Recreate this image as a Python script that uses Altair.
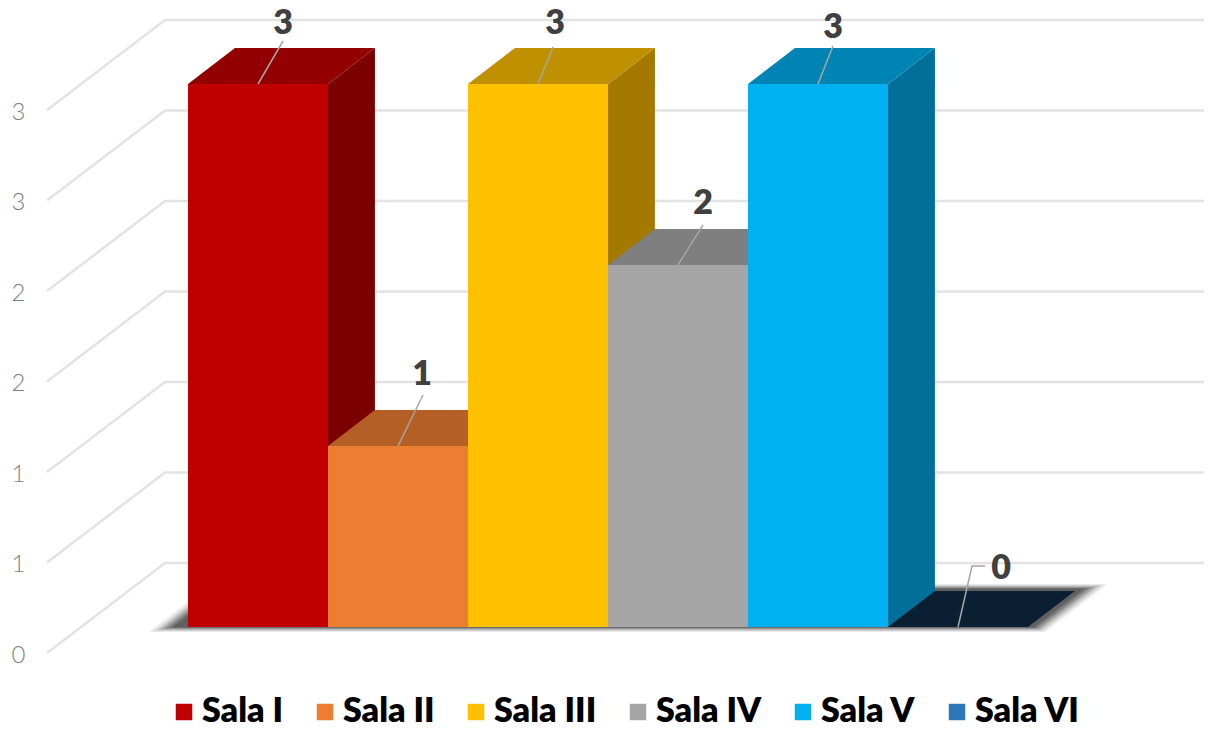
import altair as alt
import pandas as pd

# ---- chart values ----
CATEGORIES = ["Sala I", "Sala II", "Sala III", "Sala IV", "Sala V", "Sala VI"]
VALUES = [3, 1, 3, 2, 3, 0]
TICKS = [0, 0.5, 1, 1.5, 2, 2.5, 3]
FRONT = ["#C00000", "#ED7D31", "#FFC000", "#A5A5A5", "#00B0F0", "#2E75B6"]
TOP = ["#920000", "#B45F25", "#BF9000", "#7F7F7F", "#0084B4", "#0B1F33"]
SIDE = ["#7B0000", "#A04F1C", "#A37900", "#6E6E6E", "#00709A", "#0B1F33"]

# ---- projection (screen geometry of the 3D box) ----
PLOT_L, PLOT_T, W, H = 30, 8, 1174, 715
BAR_PX, UNIT_PX = 140, 181
X0, Y0 = 188, 652            # page position of first bar's left edge / value 0
DEPTH_DX, DEPTH_DY = 116, 89  # wall depth in pixels
D_FRONT, D_BACK = 25 / 89, 61 / 89


def fx(p):
    return (p - X0) / BAR_PX


def fy(p):
    return (Y0 - p) / UNIT_PX


def X(c, d, base=D_FRONT):
    return c + (d - base) * DEPTH_DX / BAR_PX


def Y(v, d):
    return v + d * DEPTH_DY / UNIT_PX


x_scale = alt.Scale(domain=[fx(PLOT_L), fx(PLOT_L + W)], nice=False, zero=False)
y_scale = alt.Scale(domain=[fy(PLOT_T + H), fy(PLOT_T)], nice=False, zero=False)
y_axis = alt.Axis(
    values=TICKS, format=".0f", domain=False, ticks=False, grid=False,
    labelFont="Lato", labelFontSize=24, labelFontWeight=300,
    labelColor="#7F7F7F", labelPadding=5, labelOffset=3,
)
xe = alt.X("x:Q", scale=x_scale, axis=None, title=None)
ye = alt.Y("y:Q", scale=y_scale, axis=y_axis, title=None)
y2e = alt.Y2("y2:Q")


def area(rows, color, opacity=1.0):
    return (
        alt.Chart(pd.DataFrame(rows, columns=["x", "y", "y2"]))
        .mark_area(orient="vertical", color=color, opacity=opacity, line=False, interpolate="linear")
        .encode(x=xe, y=ye, y2=y2e)
    )


def para_top(c0, c1, v, d0, d1):
    """horizontal face at value v between depths d0 and d1"""
    a = X(c0, d0); b = X(c0, d1); e = X(c1, d0); f = X(c1, d1)
    yf, yb = Y(v, d0), Y(v, d1)
    return [[a, yf, yf], [b, yb, yf], [e, yb, yf], [f, yb, yb]]


layers = []

# walls: gridlines
grid_rows = []
for k, t in enumerate(TICKS):
    grid_rows += [
        {"x": fx(47), "y": t + fy(653), "g": k},
        {"x": fx(165), "y": t + fy(563), "g": k},
        {"x": fx(PLOT_L + W), "y": t + fy(563), "g": k},
    ]
layers.append(
    alt.Chart(pd.DataFrame(grid_rows))
    .mark_line(color="#E3E3E3", strokeWidth=2.6)
    .encode(x=xe, y=ye, detail="g:N", order=alt.Order("x:Q"))
)

# floor shadow (soft edge from nested faces)
SHADOW_STEPS = ["#EFEFEF", "#DCDCDC", "#C4C4C4", "#A8A8A8", "#8C8C8C", "#747474", "#606060"]
for k, col in enumerate(SHADOW_STEPS):
    e = 3 * k / BAR_PX
    dd = 0.8 * k / DEPTH_DY
    layers.append(area(para_top(fx(155) + e, fx(1052) - e, 0, 20 / 89 + dd, 68 / 89 - dd), col))

# bars, painted from left to right
for i, (cat, v) in enumerate(zip(CATEGORIES, VALUES)):
    c0, c1 = i, i + 1
    if v > 0:
        layers.append(area(
            [[X(c1, D_FRONT), Y(v, D_FRONT), Y(0, D_FRONT)], [X(c1, D_BACK), Y(v, D_BACK), Y(0, D_BACK)]],
            SIDE[i]))
    layers.append(area(para_top(c0, c1, v, D_FRONT, D_BACK), TOP[i]))
    front = pd.DataFrame([{"cat": cat, "x": c0, "x2": c1, "y": Y(v, D_FRONT), "y2": Y(0, D_FRONT)}])
    layers.append(
        alt.Chart(front)
        .mark_rect()
        .encode(
            x=xe, x2="x2:Q", y=ye, y2=y2e,
            color=alt.Color(
                "cat:N",
                scale=alt.Scale(domain=CATEGORIES, range=FRONT),
                legend=alt.Legend(
                    title=None, orient="none", legendX=137, legendY=687, direction="horizontal",
                    columns=6, symbolType="square", symbolSize=272, symbolStrokeWidth=0,
                    labelFont="Lato", labelFontSize=34, labelFontWeight=800, labelColor="#000000",
                    labelOffset=1, columnPadding=24, labelLimit=300, values=CATEGORIES,
                ),
            ),
        )
    )

# leader lines and value labels
LEADER_TOP_DX = [25, 25, 15, 25, 15, 14]
LEADER_TOP_DY = [43, 51, 37, 40, 38, 61]
LABEL_DX = [25, 24, 17, 25, 15, 43]
LABEL_DY = [60, 71, 60, 61, 56, 58]
lead, lab = [], []
for i, v in enumerate(VALUES):
    cx = i + 0.5
    ty = Y(v, D_FRONT)
    tip_x = cx + LEADER_TOP_DX[i] / BAR_PX
    tip_y = ty + LEADER_TOP_DY[i] / UNIT_PX
    lead += [{"x": cx, "y": ty, "g": i, "o": 0}, {"x": tip_x, "y": tip_y, "g": i, "o": 1}]
    if v == 0:
        lead.append({"x": tip_x + 13 / BAR_PX, "y": tip_y, "g": i, "o": 2})
    lab.append({"x": cx + LABEL_DX[i] / BAR_PX, "y": ty + LABEL_DY[i] / UNIT_PX, "t": str(v)})
layers.append(
    alt.Chart(pd.DataFrame(lead))
    .mark_line(color="#A6A6A6", strokeWidth=1.5)
    .encode(x=xe, y=ye, detail="g:N", order="o:Q")
)
layers.append(
    alt.Chart(pd.DataFrame(lab))
    .mark_text(font="Lato", fontSize=34, fontWeight=800, color="#404040", baseline="middle", align="center")
    .encode(x=xe, y=ye, text="t:N")
)

chart = (
    alt.layer(*layers)
    .resolve_scale(x="shared", y="shared", color="shared")
    .properties(
        width=W, height=H,
        padding={"left": PLOT_L - 8, "top": PLOT_T - 8, "right": 0, "bottom": 0},
        autosize=alt.AutoSizeParams(type="none"),
    )
    .configure_view(stroke=None)
)
chart.save("out.html", embed_options={"renderer": "svg", "actions": False})
